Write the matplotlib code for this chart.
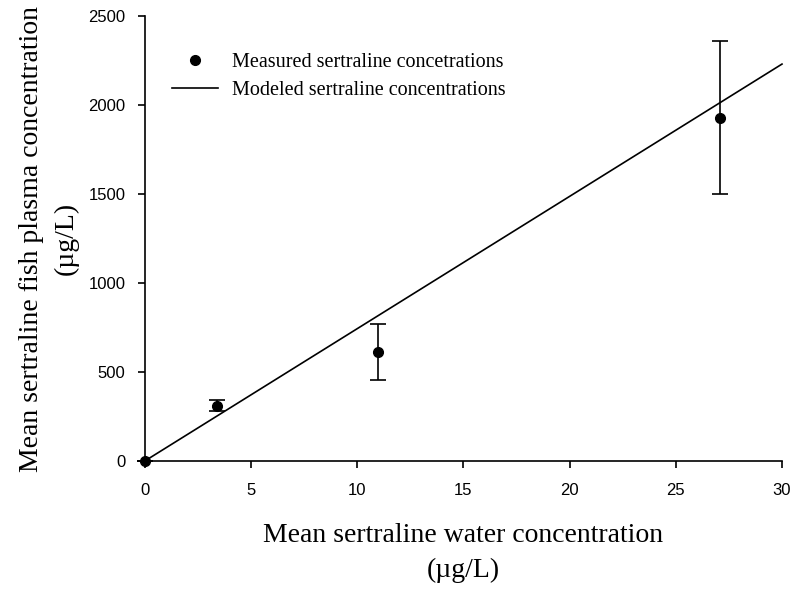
import numpy as np
import matplotlib.pyplot as plt
from matplotlib.lines import Line2D

plt.rcParams['font.family'] = ['Liberation Serif', 'DejaVu Serif']

# measured data
water_conc = [0.0, 3.4, 11.0, 27.1]
plasma_conc = [0.0, 310.0, 612.0, 1928.0]
plasma_err = [0.0, 30.0, 157.0, 430.0]

# modeled line end points
model_x = [0.0, 30.0]
model_y = [0.0, 2230.0]

fig = plt.figure(figsize=(8.0, 5.93), dpi=100)
ax = fig.add_axes([0.181, 0.2226, 0.7965, 0.7504])

ax.plot(model_x, model_y, color='black', lw=1.2, clip_on=False)
ax.errorbar(water_conc, plasma_conc, yerr=plasma_err, fmt='o', color='black', ms=7,
            elinewidth=1.2, capsize=6, capthick=1.2, clip_on=False, zorder=3)

ax.set_xlim(0, 30)
ax.set_ylim(0, 2500)
ax.set_xticks(np.arange(0, 31, 5))
ax.set_yticks(np.arange(0, 2501, 500))
ax.spines['top'].set_visible(False)
ax.spines['right'].set_visible(False)
for s in ('left', 'bottom'):
    ax.spines[s].set_linewidth(1.2)
ax.tick_params(direction='out', length=5, width=1.2, labelsize=12)
ax.tick_params(axis='x', pad=11)
ax.tick_params(axis='y', pad=9)
for lab in ax.get_xticklabels() + ax.get_yticklabels():
    lab.set_family(['Liberation Sans', 'DejaVu Sans'])

ax.set_xlabel('Mean sertraline water concentration\n(\u00b5g/L)', fontsize=20, labelpad=18, linespacing=1.5)
ax.set_ylabel('Mean sertraline fish plasma concentration\n(\u00b5g/L)', fontsize=20, labelpad=7, linespacing=1.5)

handles = [Line2D([], [], ls='none', marker='o', color='black', ms=7),
           Line2D([], [], color='black', lw=1.2)]
labels = ['Measured sertraline concetrations', 'Modeled sertraline concentrations']
ax.legend(handles, labels, loc='upper left', bbox_to_anchor=(0.042, 0.917),
          frameon=False, fontsize=14.5, handlelength=2.3, handletextpad=0.7,
          labelspacing=0.45, borderaxespad=0, borderpad=0)

fig.savefig('out.png', dpi=100)
